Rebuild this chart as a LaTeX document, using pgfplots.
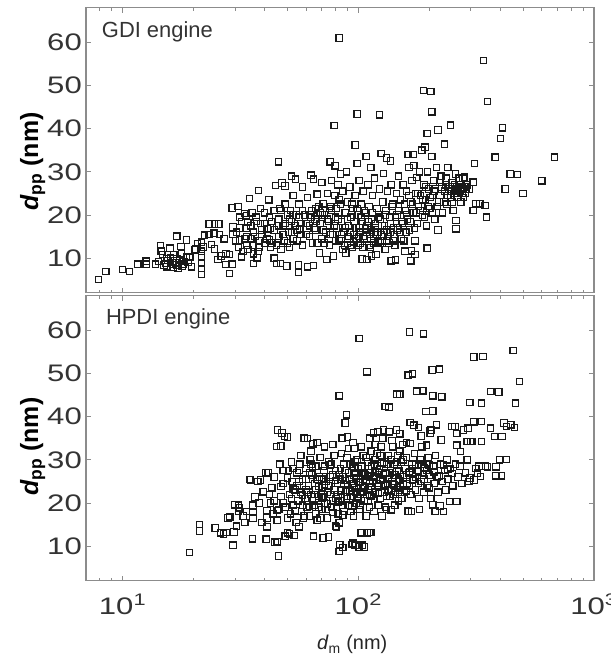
\documentclass[border=0pt]{standalone}
\usepackage{fontspec}
\setmainfont{Liberation Sans}
\newfontfamily\tickfont[FakeStretch=1.3]{Liberation Sans}
\usepackage{pgfplots}
\usepackage{pgfplotstable}
\pgfplotsset{compat=1.18}
\definecolor{axgray}{gray}{0.55}
\definecolor{mk}{gray}{0.1}

\pgfplotsset{
  mypanel/.style={
    scale only axis, width=508bp, height=285bp, anchor=south west,
    xmin=7, xmax=1000, ymin=2, ymax=68,
    xtick={10,100,1000},
    minor xtick={8,9,20,30,40,50,60,70,80,90,200,300,400,500,600,700,800,900},
    ytick={10,20,30,40,50,60},
    tick align=inside,
    axis line style={draw=axgray, line width=1.2bp},
    tick style={color=axgray, line width=0.8bp},
    major tick length=5bp, minor tick length=3bp,
    /pgf/number format/assume math mode=true,
    yticklabel style={font=\tickfont\fontsize{24}{28}\selectfont, inner sep=1bp, xshift=-3bp, text=black!80},
    xticklabel style={font=\tickfont\fontsize{24}{28}\selectfont, inner sep=0pt, yshift=-13bp, text=black!80},
    every axis y label/.style={at={(axis description cs:-0.105,0.46)}, rotate=90, anchor=center, font=\fontsize{25}{29}\selectfont\bfseries},
    clip=false,
  },
  mypts/.style={only marks, mark=square, mark size=3.2bp, mark options={draw=mk, line width=1.2bp}},
}

\pgfplotstableread{
x y
7.9 5.1
8.5 6.9
10.0 7.4
10.7 6.9
11.6 8.6
12.6 9.3
12.6 8.6
13.8 8.6
14.5 12.9
14.6 11.6
14.8 10.8
15.4 9.9
15.4 8.0
15.2 8.8
15.9 12.3
16.0 10.0
16.4 8.5
16.4 7.8
17.0 15.1
17.0 9.9
17.0 8.4
17.2 7.6
17.7 12.7
17.9 8.2
18.2 9.2
18.7 14.2
18.7 10.2
19.3 10.2
19.6 8.0
19.0 9.0
14.2 9.2
15.0 8.4
15.6 9.5
16.2 9.0
16.8 8.9
17.5 9.6
18.0 8.6
16.5 10.8
17.8 11.0
20.2 11.9
20.5 12.1
20.8 13.4
21.6 13.7
21.6 11.6
21.6 10.5
21.6 8.8
21.6 7.6
21.6 6.2
22.3 15.3
22.0 12.6
23.3 15.5
23.3 17.9
23.8 13.2
24.6 12.1
24.6 17.9
25.4 9.7
25.6 17.9
25.8 15.5
26.2 10.5
27.5 11.0
27.5 8.5
28.4 10.8
28.4 6.4
29.2 21.6
29.4 17.2
29.4 15.5
29.2 8.6
30.2 14.0
30.9 22.0
31.4 19.5
31.4 17.0
31.4 14.2
32.0 10.3
32.5 11.5
33.0 20.3
33.5 19.8
33.5 17.0
33.5 15.0
33.5 13.0
34.5 23.8
34.0 18.3
35.0 14.5
36.0 16.0
36.0 13.0
36.0 11.0
36.0 8.8
37.3 10.1
37.6 11.5
37.8 25.7
38.0 14.0
38.5 18.0
39.0 15.5
40.0 13.5
40.0 20.5
41.7 23.5
41.0 16.8
42.0 14.2
42.5 12.5
43.0 18.5
44.0 21.0
44.5 26.8
44.0 10.0
45.0 8.8
45.8 32.3
46.8 8.8
46.0 15.0
46.0 19.0
47.0 12.0
47.5 27.4
48.0 17.5
48.9 26.7
48.5 14.0
49.8 8.2
49.0 22.5
50.0 20.0
50.5 16.0
51.0 12.5
52.0 29.0
52.0 18.5
53.0 24.5
53.0 14.5
54.1 28.3
54.5 20.0
55.7 8.4
55.7 6.7
55.0 16.5
56.0 22.5
57.0 18.0
58.0 13.0
58.0 26.5
59.5 20.0
60.0 15.5
61.0 8.0
61.0 24.0
62.0 17.5
63.0 29.2
63.5 21.0
64.6 28.3
64.6 8.3
64.0 13.5
65.5 19.0
66.0 16.5
67.0 24.8
68.0 22.0
68.5 11.2
69.0 18.0
70.0 14.5
70.0 27.5
71.0 22.6
72.0 20.0
73.0 16.0
73.6 9.7
74.0 25.0
75.0 18.5
75.5 13.0
76.0 32.3
76.5 22.0
77.0 28.0
78.0 15.5
78.5 10.5
79.0 40.7
79.5 24.5
79.8 31.4
80.0 19.5
81.0 17.0
82.0 27.0
83.0 61.0
83.0 14.0
84.0 29.5
84.0 22.5
85.0 18.5
86.0 25.5
87.0 16.0
88.0 20.5
88.6 11.2
89.0 30.0
90.0 23.0
90.0 13.5
91.0 17.5
92.0 26.5
93.0 19.5
94.0 12.5
95.0 21.5
96.0 15.5
97.0 36.2
97.0 24.5
98.0 17.0
99.0 43.4
99.0 31.9
100.0 20.0
100.0 13.0
101.0 28.0
102.0 16.0
103.0 22.5
104.0 9.8
104.0 18.5
105.0 25.5
106.0 14.5
107.0 20.5
108.0 33.5
108.6 9.7
109.0 17.5
110.0 27.0
111.0 22.0
112.0 15.5
113.0 31.0
114.0 10.5
114.0 19.0
115.0 24.5
116.0 13.5
117.0 28.5
118.0 17.0
119.0 10.8
120.0 21.5
121.0 16.0
123.0 43.2
123.0 26.0
124.0 19.0
125.0 34.2
126.0 14.0
127.0 23.0
128.0 29.6
129.0 17.5
130.0 12.0
131.0 21.0
132.0 33.2
133.0 25.5
134.0 15.0
136.0 19.5
137.0 32.5
138.0 9.4
138.0 27.0
140.0 22.5
141.0 17.0
143.0 13.0
144.0 9.6
145.0 25.0
146.0 20.0
148.0 29.0
150.0 16.0
151.0 23.5
153.0 18.5
155.0 27.0
156.0 14.0
158.0 11.6
158.0 21.0
160.0 25.5
162.0 19.0
163.0 34.0
164.0 31.0
165.0 16.5
167.0 9.4
167.0 23.0
168.0 11.7
169.0 28.0
171.0 34.0
171.0 20.5
172.0 31.5
174.0 10.8
174.0 14.0
175.0 25.0
177.0 28.7
178.0 18.0
180.0 22.0
182.0 30.0
184.0 24.5
186.0 35.0
187.0 20.0
189.0 48.8
190.0 27.0
192.0 35.7
193.0 23.5
195.0 17.5
196.0 38.9
196.0 12.3
197.0 30.0
199.0 26.0
201.0 21.5
203.0 48.6
205.0 43.9
205.0 33.5
207.0 24.5
209.0 28.0
211.0 19.0
213.0 26.0
215.0 31.0
218.0 39.7
218.0 16.5
220.0 23.0
222.0 27.5
225.0 29.0
228.0 20.5
232.0 36.4
233.0 25.5
236.0 28.5
238.0 22.5
240.0 31.0
242.0 26.0
246.0 40.8
247.0 24.0
250.0 27.5
253.0 21.0
255.0 25.0
258.0 29.5
260.0 18.7
260.0 16.8
262.0 26.5
265.0 24.0
268.0 27.0
270.0 25.5
272.0 23.0
275.0 26.5
278.0 28.5
282.0 28.8
285.0 25.0
290.0 27.0
296.0 26.0
307.0 27.6
307.0 21.0
311.0 31.9
316.0 22.6
340.0 55.8
328.0 22.6
345.0 22.2
350.0 19.5
353.0 46.3
381.0 33.4
401.0 37.7
409.0 40.2
420.0 26.0
441.0 29.5
472.0 29.4
500.0 25.0
600.0 27.9
680.0 33.4
30.5 16.0
31.0 12.5
32.0 18.5
33.0 14.5
34.0 12.0
35.0 17.5
35.5 20.5
36.5 15.0
37.0 18.5
38.0 12.5
39.0 16.5
40.0 18.0
41.0 14.5
42.0 19.5
43.0 13.5
44.0 16.5
45.0 13.0
46.0 17.5
47.0 21.0
48.0 15.5
49.0 18.0
50.0 13.5
51.0 19.0
52.0 16.0
53.0 20.0
54.0 17.5
55.0 14.0
56.0 19.5
57.0 15.5
58.0 21.0
60.0 18.0
62.0 15.0
63.0 19.5
65.0 17.0
66.0 21.5
67.0 13.5
69.0 20.5
71.0 16.5
72.0 13.5
74.0 19.0
76.0 15.5
77.0 21.0
79.0 17.5
80.0 14.0
82.0 19.0
83.0 23.5
85.0 15.5
86.0 12.0
88.0 17.0
90.0 19.0
91.0 15.0
93.0 13.0
94.0 22.5
96.0 18.5
98.0 14.5
99.0 21.5
101.0 17.0
102.0 13.5
103.0 19.5
105.0 15.0
106.0 21.0
108.0 16.0
110.0 18.5
111.0 13.0
113.0 16.5
115.0 20.5
116.0 14.5
118.0 18.0
120.0 15.5
122.0 19.5
124.0 13.5
126.0 17.5
128.0 15.0
130.0 20.0
132.0 16.5
135.0 13.5
137.0 18.0
139.0 22.0
142.0 15.5
144.0 19.5
147.0 17.0
149.0 21.0
152.0 14.5
154.0 18.0
157.0 22.5
159.0 16.0
161.0 20.0
164.0 24.5
166.0 18.5
170.0 22.5
173.0 17.0
176.0 20.5
179.0 25.0
183.0 21.0
188.0 23.5
191.0 19.5
194.0 26.5
198.0 22.0
202.0 24.0
206.0 20.5
210.0 25.5
216.0 22.0
222.0 24.5
226.0 26.5
231.0 23.0
235.0 27.0
240.0 24.5
245.0 26.5
250.0 23.0
256.0 27.0
264.0 25.0
268.0 28.5
273.0 26.0
280.0 24.0
288.0 26.0
84.5 14.5
87.5 13.0
92.5 16.0
95.5 13.8
100.5 15.0
104.5 12.5
107.5 16.8
112.5 12.5
116.5 16.0
121.5 13.8
125.5 15.5
131.5 14.0
136.5 16.0
141.5 14.0
146.5 16.5
62.5 20.0
66.5 18.5
70.5 20.0
75.5 21.5
80.5 21.5
46.5 21.5
51.5 21.0
56.5 16.8
38.5 21.5
42.5 17.0
36.8 19.5
27.0 14.5
24.5 15.8
260.5 25.8
266.5 25.5
272.5 27.0
276.0 25.0
248.0 25.5
283.0 26.5
}\gditable

\pgfplotstableread{
x y
19.2 8.5
21.2 15.0
21.2 13.5
24.7 14.2
26.0 13.1
26.8 12.8
27.5 13.2
28.0 16.5
28.5 16.8
29.4 10.2
29.7 13.3
30.0 19.6
30.4 14.6
31.0 19.5
31.4 18.9
31.0 18.1
32.5 17.0
33.5 18.0
33.0 15.5
34.5 25.4
34.9 25.3
35.6 11.7
35.8 19.5
35.8 17.8
35.8 16.5
36.5 21.4
37.5 25.0
38.5 25.3
38.0 20.0
39.5 22.6
39.0 15.5
40.6 27.1
40.7 11.6
41.0 18.3
41.0 16.5
41.0 14.5
41.5 27.0
42.5 20.0
43.0 23.5
43.5 17.5
44.3 10.9
45.0 33.1
45.3 18.3
45.3 16.0
45.3 11.0
45.5 36.9
45.8 7.7
46.5 29.0
46.9 33.2
47.0 21.5
47.5 36.2
48.0 24.5
48.7 35.4
49.0 12.3
49.0 19.0
50.0 35.3
50.0 13.1
50.5 27.5
51.0 12.8
51.0 22.0
51.5 17.5
52.0 29.5
52.5 25.0
53.0 19.5
53.5 12.5
54.0 23.0
54.5 15.5
55.0 27.0
55.5 20.5
56.0 14.5
56.5 29.0
57.0 22.5
57.5 18.0
58.0 25.5
58.5 16.5
59.0 35.0
59.5 21.0
60.0 28.0
60.5 19.0
61.0 34.9
61.5 24.0
62.0 17.0
62.5 30.0
63.0 22.0
63.5 26.5
64.3 33.7
64.5 12.3
65.0 19.5
65.5 24.5
66.0 28.5
67.0 34.0
67.0 16.0
68.0 21.5
68.5 26.0
69.0 30.5
70.0 18.5
70.5 23.5
71.0 11.9
71.5 27.5
72.0 20.0
73.0 25.0
74.0 16.5
74.8 12.1
75.0 29.5
76.0 22.0
77.0 19.0
78.0 26.5
79.0 31.0
80.0 14.6
80.5 21.0
81.0 14.4
81.5 24.5
82.0 17.5
83.0 44.8
83.0 15.4
83.0 8.8
83.5 10.4
84.0 28.0
85.0 20.5
85.5 35.0
86.0 9.7
86.0 26.0
87.0 18.0
88.0 38.5
88.5 23.0
89.0 40.4
89.5 30.5
90.0 35.3
90.5 19.5
91.0 32.6
92.0 25.5
93.0 21.5
94.0 10.4
94.5 28.5
95.0 10.7
95.5 17.0
96.0 32.6
96.5 23.5
97.0 10.2
97.5 27.0
98.0 20.0
99.0 30.0
100.0 25.0
101.0 9.8
101.0 58.1
101.5 18.5
102.0 22.0
103.0 13.1
103.5 28.5
104.0 10.2
104.5 24.0
105.0 31.0
106.0 9.8
106.0 20.5
107.0 26.5
108.0 17.0
109.0 50.4
109.0 13.1
109.5 29.5
110.0 23.0
111.0 13.2
111.5 19.0
112.0 27.0
113.0 13.2
113.5 32.0
114.0 21.5
115.0 25.0
116.0 36.2
116.5 18.0
117.0 29.0
118.0 22.5
119.0 26.0
120.0 31.5
121.0 36.5
121.5 19.5
122.0 24.0
123.0 28.0
124.0 21.0
125.0 33.0
126.0 17.0
127.0 25.5
128.0 36.9
128.5 29.5
129.0 22.5
130.0 42.3
130.5 19.0
131.0 27.0
132.0 18.5
133.0 24.5
134.0 31.0
135.0 36.5
135.0 42.2
136.0 21.5
137.0 28.5
138.0 18.4
139.0 25.0
140.0 33.0
141.0 22.0
142.0 29.0
143.0 19.5
144.0 26.5
145.0 36.9
146.0 45.2
146.5 23.5
147.0 31.0
148.0 20.5
149.0 27.5
150.0 36.0
150.0 45.2
151.0 24.0
152.0 29.5
153.0 21.0
154.0 33.5
155.0 26.0
157.0 22.5
158.0 28.0
160.0 30.5
161.0 24.5
163.0 49.6
163.0 18.1
164.0 27.0
165.0 59.6
166.0 38.6
166.0 33.8
167.0 22.0
168.0 18.0
169.0 29.0
170.0 49.9
171.0 25.5
172.0 38.0
173.0 31.5
175.0 23.0
177.0 45.9
178.0 27.5
180.0 37.5
181.0 21.0
182.0 18.5
183.0 30.0
185.0 25.0
186.0 33.0
188.0 46.0
189.0 59.2
190.0 22.5
192.0 28.0
194.0 41.2
195.0 33.4
196.0 24.0
198.0 30.5
200.0 26.5
202.0 36.1
202.0 36.8
203.0 21.0
204.0 36.9
206.0 50.8
207.0 44.8
207.0 41.3
207.0 19.6
208.0 28.5
210.0 24.5
212.0 18.1
213.0 31.0
215.0 38.1
216.0 26.0
218.0 22.5
221.0 51.0
222.0 19.3
223.0 29.0
225.0 34.6
226.0 44.6
227.0 25.0
230.0 18.0
232.0 27.5
235.0 23.0
238.0 30.0
240.0 25.5
244.0 20.3
246.0 28.0
250.0 37.7
252.0 24.0
257.0 37.7
258.0 29.0
262.0 33.4
262.0 36.1
262.0 20.3
265.0 26.0
270.0 28.5
271.0 31.9
275.0 24.5
280.0 36.9
285.0 27.0
290.0 34.2
290.0 30.0
292.0 37.3
295.0 25.0
297.0 43.3
297.0 25.8
300.0 34.2
305.0 34.2
309.0 53.8
309.0 38.8
310.0 25.3
315.0 28.0
320.0 26.9
325.0 28.5
330.0 26.1
333.0 43.1
333.0 34.2
333.0 38.9
338.0 53.9
347.0 28.5
354.0 28.4
364.0 37.3
365.0 45.8
378.0 35.4
383.0 26.3
384.0 28.4
395.0 45.7
398.0 30.0
405.0 26.3
407.0 35.4
415.0 38.5
425.0 30.1
426.0 37.7
444.0 38.1
454.0 55.3
460.0 37.5
465.0 43.1
483.0 48.1
52 21
55 24
58 19.5
60 23
62 27
64 20.5
66 23
68 19
70 25.5
72 28.5
74 22.5
76 26
78 20.5
80 27.5
82 22
84 25.5
86 19.5
88 27.5
90 21.5
92 29
94 23.5
96 26.5
98 22.5
100 28
102 19.5
104 27
106 23.5
108 30.5
110 20.5
112 24.5
114 28.5
116 22
118 30
120 24.5
122 27
124 31
126 22.5
128 26.5
130 24
132 29
134 23
136 27
138 30
140 24.5
142 26.5
144 22.5
146 29.5
148 25.5
150 23
155 30
160 26.5
165 24
170 28
175 26
180 24.5
185 29
190 25.5
195 27.5
200 23.5
48 20
50 16.5
53 28
56 25
59 17
61 21
63 29
65 22
67 25.5
69 16.5
71 21.5
73 18.5
75 24
77 29
79 23
81 19
83 26.5
85 23
87 29
89 21
91 27
93 18
95 24.5
97 29.5
99 22
46 18.5
44 26
42 22
48 27.5
57 31
63 32
72 33
78 33.5
85 31.5
95 34
103 33
112 35
118 33.5
127 35
139 34.5
150 32
160 34
185 35.5
54 18.2
58 21.8
62 19.2
66 17.5
70 21.2
74 19.8
78 17.8
82 20.2
86 17.2
90 24.2
94 19.2
98 25.8
102 24.8
106 26.8
110 26.2
114 23.8
118 27.2
122 22.2
126 29.2
130 26.8
134 25.6
138 22.8
142 24.2
146 27.2
150 25.2
155 24.2
160 22.8
165 27.2
170 25.2
175 28.8
180 27.2
190 28.2
200 28.8
210 27.2
220 26.2
230 28.8
240 27.8
250 26.8
44 20.5
47 23.8
50 25.8
53 23.2
56 27.5
60 25.5
64 28.2
68 23.8
72 24.2
76 28.8
80 25.2
84 22.8
88 25.2
92 22.8
96 28.2
100 21.2
104 22.6
108 25.2
112 21.8
116 26.2
120 28.6
124 25.2
128 24.2
132 21.6
}\hpditable

\begin{document}
\begin{tikzpicture}
\useasboundingbox (0,0) rectangle (611bp,661bp);
\begin{semilogxaxis}[mypanel, at={(86bp,368.3bp)}, xticklabels={},
  ylabel={\textit{d}\textsubscript{pp} (nm)}]
\addplot[mypts] table {\gditable};
\node[anchor=base west, inner sep=0pt, font=\fontsize{22}{26}\selectfont, text=black!80] at (rel axis cs:0.031,0.897) {GDI engine};
\end{semilogxaxis}
\begin{semilogxaxis}[mypanel, at={(86bp,80.3bp)},
  xticklabels={10\textsuperscript{1},10\textsuperscript{2},10\textsuperscript{3}},
  ylabel={\textit{d}\textsubscript{pp} (nm)},
  every axis y label/.append style={at={(axis description cs:-0.105,0.47)}},
  xlabel={\textit{d}\textsubscript{m} (nm)},
  every axis x label/.style={at={(axis description cs:0.524,-0.225)}, anchor=center, font=\fontsize{20}{24}\selectfont, text=black!85}]
\addplot[mypts] table {\hpditable};
\node[anchor=base west, inner sep=0pt, font=\fontsize{22}{26}\selectfont, text=black!80] at (rel axis cs:0.039,0.898) {HPDI engine};
\end{semilogxaxis}
\end{tikzpicture}
\end{document}
